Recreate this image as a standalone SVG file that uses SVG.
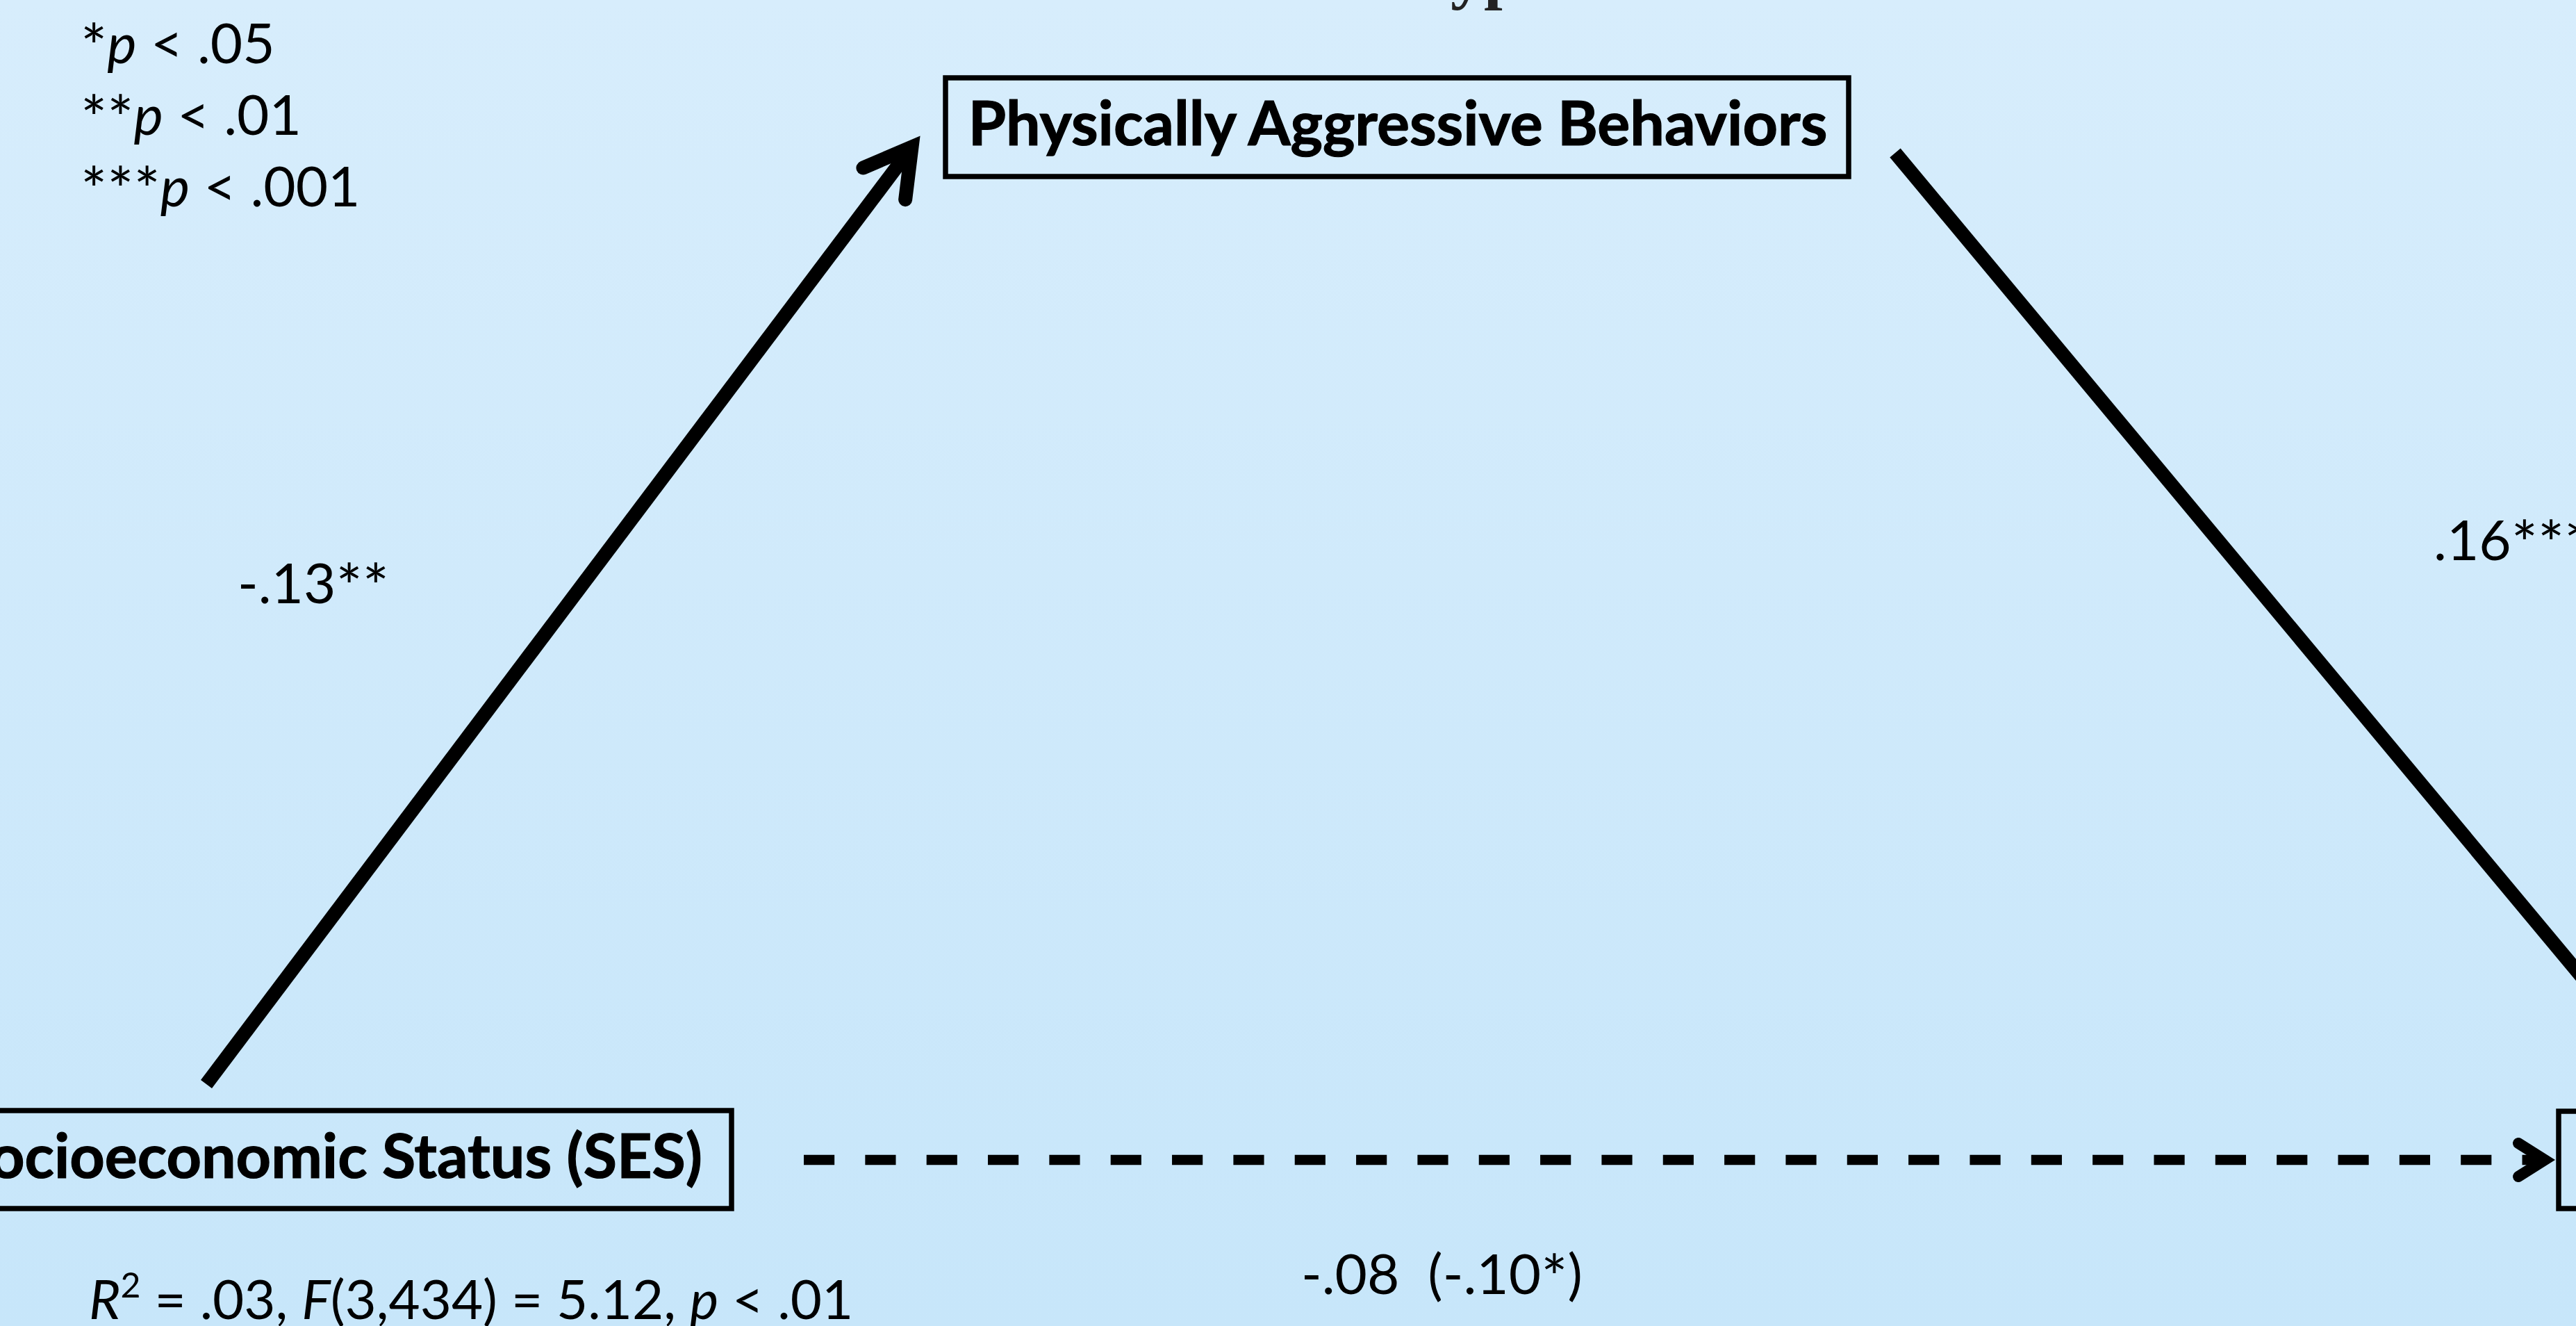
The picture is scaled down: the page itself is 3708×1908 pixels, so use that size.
<svg xmlns="http://www.w3.org/2000/svg" width="3708" height="1908" viewBox="0 0 3708 1908">
  <defs>
    <linearGradient id="bg" x1="0" y1="0" x2="0" y2="1">
      <stop offset="0" stop-color="#D7EDFC"/>
      <stop offset="1" stop-color="#C7E6FA"/>
    </linearGradient>
    <marker id="headBig" markerUnits="userSpaceOnUse" orient="auto" refX="0" refY="0" markerWidth="10" markerHeight="10" overflow="visible">
      <path d="M -66 -38 L 0 0 L -66 38" fill="none" stroke="#000" stroke-width="20" stroke-linecap="round" stroke-linejoin="miter" stroke-miterlimit="6"/>
    </marker>
    <marker id="headDash" markerUnits="userSpaceOnUse" orient="auto" refX="0" refY="0" markerWidth="10" markerHeight="10" overflow="visible">
      <path d="M -38 -24 L 0 0 L -38 24" fill="none" stroke="#000" stroke-width="16" stroke-linecap="round" stroke-linejoin="miter" stroke-miterlimit="6" stroke-dasharray="none"/>
    </marker>
    <style>
      .box { fill: none; stroke: #000; stroke-width: 7.5; }
      .node { font-family: Lato, "Liberation Sans", sans-serif; font-weight: 700; font-size: 88px; fill: #000; stroke: #000; stroke-width: 1.2px; }
      .lbl { font-family: Lato, "Liberation Sans", sans-serif; font-weight: 400; font-size: 80px; fill: #000; }
      .it { font-style: italic; }
      .ast { font-size: 90px; }
      .solid { fill: none; stroke: #000; stroke-width: 20; stroke-linecap: butt; }
      .dash { fill: none; stroke: #000; stroke-width: 14.5; stroke-dasharray: 44.17 44.17; stroke-linecap: butt; }
      .title { font-family: "Liberation Serif", serif; font-weight: 700; font-size: 96px; fill: #222; }
    </style>
  </defs>

  <rect x="0" y="0" width="3708" height="1908" fill="url(#bg)"/>

  <!-- partially visible title (cut off at top) -->
  <text class="title" x="2088" y="-5">yp</text>

  <!-- legend -->
  <g id="legend" class="lbl">
    <text x="116" y="91"><tspan class="ast" dy="9">*</tspan><tspan class="it" dy="-9">p</tspan> &lt; .05</text>
    <text x="116" y="194"><tspan class="ast" dy="9">**</tspan><tspan class="it" dy="-9">p</tspan> &lt; .01</text>
    <text x="116" y="297"><tspan class="ast" dy="9">***</tspan><tspan class="it" dy="-9">p</tspan> &lt; .001</text>
  </g>

  <!-- connectors -->
  <g id="connectors">
    <line class="solid" x1="297" y1="1560" x2="1312.5" y2="211.6" marker-end="url(#headBig)"/>
    <line class="solid" x1="2728" y1="220" x2="3900" y2="1626"/>
    <line class="dash" x1="1157" y1="1669" x2="3663" y2="1669" marker-end="url(#headDash)"/>
  </g>

  <!-- nodes -->
  <g id="node-pab">
    <rect class="box" x="1361" y="112" width="1300" height="142"/>
    <text class="node" x="2012" y="209" text-anchor="middle">Physically Aggressive Behaviors</text>
  </g>
  <g id="node-ses">
    <rect class="box" x="-100" y="1598" width="1153" height="141"/>
    <text class="node" x="1011" y="1695" text-anchor="end">Socioeconomic Status (SES)</text>
  </g>
  <g id="node-outcome">
    <rect class="box" x="3683" y="1599" width="200" height="140"/>
  </g>

  <!-- path labels -->
  <g id="labels" class="lbl">
    <text x="342" y="868">-.13<tspan class="ast" dy="9">**</tspan></text>
    <text x="3503" y="806">.16<tspan class="ast" dy="9">***</tspan></text>
    <text x="1873" y="1862" xml:space="preserve">-.08  (-.10<tspan class="ast" dy="9">*</tspan><tspan dy="-9">)</tspan></text>
    <text x="128" y="1898" font-size="78"><tspan class="it">R</tspan><tspan font-size="50" dy="-31">2</tspan><tspan dy="31"> = .03, </tspan><tspan class="it">F</tspan>(3,434) = 5.12, <tspan class="it">p</tspan> &lt; .01</text>
  </g>
</svg>
